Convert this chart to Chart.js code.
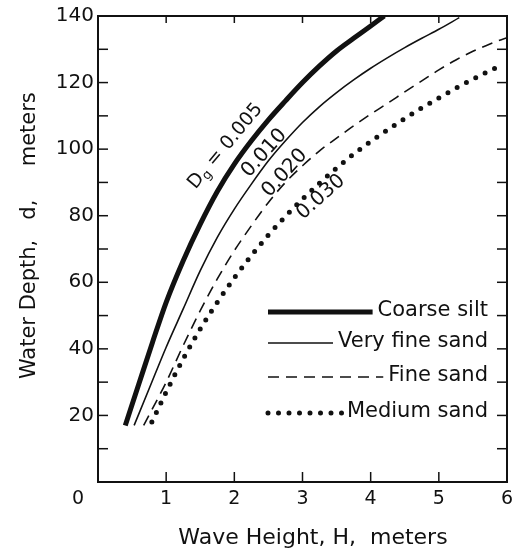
<!DOCTYPE html>
<html><head><meta charset="utf-8">
<script src="https://cdn.jsdelivr.net/npm/chart.js@4.4.1/dist/chart.umd.min.js"></script>
<style>html,body{margin:0;padding:0;background:#fff}canvas{display:block}</style>
</head><body>
<canvas id="c" width="513" height="554"></canvas>
<script>
// ---- data ----
const seriesNames = ['Coarse silt', 'Very fine sand', 'Fine sand', 'Medium sand'];
const grainSizes = ['0.005', '0.010', '0.020', '0.030'];
const coarseSiltH = [0.40, 0.60, 0.80, 1.00, 1.25, 1.50, 1.75, 2.00, 2.25, 2.50, 2.75, 3.00, 3.25, 3.50, 3.75, 4.00, 4.20];
const coarseSiltD = [17, 29.5, 42, 54, 66.5, 77.5, 87.3, 95.5, 102.5, 108.8, 114.5, 120, 125, 129.5, 133.3, 137, 140];
const veryFineSandH = [0.53, 0.75, 1.00, 1.25, 1.50, 1.75, 2.00, 2.25, 2.50, 2.75, 3.00, 3.25, 3.50, 3.75, 4.00, 4.25, 4.50, 4.75, 5.00, 5.30];
const veryFineSandD = [17, 28, 40.5, 52, 63.5, 73.5, 82, 89.5, 96.5, 102.5, 108, 112.8, 117, 120.8, 124.3, 127.5, 130.5, 133.3, 136, 139.5];
const fineSandH = [0.67, 1.00, 1.25, 1.50, 1.75, 2.00, 2.25, 2.50, 2.75, 3.00, 3.25, 3.50, 3.75, 4.00, 4.25, 4.50, 4.75, 5.00, 5.25, 5.50, 5.75, 6.00];
const fineSandD = [17, 30, 41, 51.5, 61, 69.5, 77, 84, 90, 95, 99.5, 103.3, 107, 110.5, 113.8, 117.2, 120.5, 123.8, 126.8, 129.4, 131.6, 133.5];
const mediumSandH = [0.79, 1.00, 1.25, 1.50, 1.75, 2.00, 2.25, 2.50, 2.75, 3.00, 3.25, 3.50, 3.75, 4.00, 4.25, 4.50, 4.75, 5.00, 5.25, 5.50, 5.75, 5.95];
const mediumSandD = [18, 27, 37, 46, 54, 61.3, 68, 74.2, 79.8, 85, 89.8, 94.3, 98.5, 102.3, 105.8, 109.2, 112.4, 115.4, 118.3, 121, 123.6, 125.5];
const xTickLabels = ['0', '1', '2', '3', '4', '5', '6'];
const yTickLabels = ['20', '40', '60', '80', '100', '120', '140'];
const xTitle = 'Wave Height, H,  meters';
const yTitle = 'Water Depth,   d,     meters';

// ---- styling ----
const ink = '#111';
const FONT = '"DejaVu Sans", "Liberation Sans", sans-serif';
const seriesH = [coarseSiltH, veryFineSandH, fineSandH, mediumSandH];
const seriesD = [coarseSiltD, veryFineSandD, fineSandD, mediumSandD];
const lineStyles = [
  { borderWidth: 5, borderDash: [], borderCapStyle: 'butt' },
  { borderWidth: 1.6, borderDash: [], borderCapStyle: 'butt' },
  { borderWidth: 1.6, borderDash: [11, 7], borderCapStyle: 'butt' },
  { borderWidth: 5, borderDash: [0, 10.5], borderCapStyle: 'round' }
];
// label placement (data coordinates) and rotation
const labelPlacement = [
  { h: 1.87, d: 100.9, angle: -50 },
  { h: 2.44, d: 98.8, angle: -48 },
  { h: 2.74, d: 92.8, angle: -48 },
  { h: 3.27, d: 85.6, angle: -41.5 }
];
const legendRowsY = [311, 342, 376, 412];

const datasets = seriesNames.map((name, i) => Object.assign({
  label: name,
  data: seriesH[i].map((h, j) => ({ x: h, y: seriesD[i][j] })),
  borderColor: ink,
  backgroundColor: ink,
  pointRadius: 0,
  fill: false,
  cubicInterpolationMode: 'monotone'
}, lineStyles[i]));

function seg(ctx, x1, y1, x2, y2) { ctx.beginPath(); ctx.moveTo(x1, y1); ctx.lineTo(x2, y2); ctx.stroke(); }

const decor = {
  id: 'decor',
  afterDraw(chart) {
    const { ctx, chartArea: a, scales: { x, y } } = chart;
    ctx.save();
    ctx.strokeStyle = ink; ctx.fillStyle = ink;
    // frame
    ctx.lineWidth = 2;
    ctx.strokeRect(a.left, a.top, a.right - a.left, a.bottom - a.top);
    // inward ticks
    ctx.lineWidth = 1.5;
    for (let v = 10; v < 140; v += 10) {
      const py = y.getPixelForValue(v);
      seg(ctx, a.left, py, a.left + 10, py);
      seg(ctx, a.right, py, a.right - 10, py);
    }
    for (let v = 1; v < 6; v++) {
      const px = x.getPixelForValue(v);
      seg(ctx, px, a.bottom, px, a.bottom - 10);
      seg(ctx, px, a.top, px, a.top + 7);
    }
    // origin label
    ctx.font = '19px ' + FONT;
    ctx.textAlign = 'center'; ctx.textBaseline = 'middle';
    ctx.fillText(xTickLabels[0], x.getPixelForValue(0) - 20, a.bottom + 17);

    // legend
    ctx.font = '21px ' + FONT;
    ctx.textAlign = 'right';
    const textRight = 488, lineLeft = 268;
    chart.data.datasets.forEach((ds, i) => {
      const ry = legendRowsY[i];
      ctx.fillText(ds.label, textRight, ry);
      const w = ctx.measureText(ds.label).width;
      ctx.save();
      ctx.lineWidth = ds.borderWidth;
      ctx.setLineDash(ds.borderDash);
      ctx.lineCap = ds.borderCapStyle;
      seg(ctx, lineLeft, ry + 1, textRight - w - 5, ry + 1);
      ctx.restore();
    });

    // curve labels
    labelPlacement.forEach((p, i) => {
      const px = x.getPixelForValue(p.h), py = y.getPixelForValue(p.d);
      ctx.save();
      ctx.translate(px, py);
      ctx.rotate(p.angle * Math.PI / 180);
      ctx.textBaseline = 'middle';
      if (i === 0) {
        const big = '19px ' + FONT, small = '13px ' + FONT;
        ctx.font = big; const wD = ctx.measureText('D').width;
        const rest = ' = ' + grainSizes[0];
        const wR = ctx.measureText(rest).width;
        ctx.font = small; const wg = ctx.measureText('g').width;
        let sx = -(wD + wg + wR) / 2;
        ctx.textAlign = 'left';
        ctx.font = big; ctx.fillText('D', sx, 0); sx += wD;
        ctx.font = small; ctx.fillText('g', sx, 5); sx += wg;
        ctx.font = big; ctx.fillText(rest, sx, 0);
      } else {
        ctx.font = '20px ' + FONT;
        ctx.textAlign = 'center';
        ctx.fillText(grainSizes[i], 0, 0);
      }
      ctx.restore();
    });
    ctx.restore();
  }
};

new Chart(document.getElementById('c'), {
  type: 'line',
  data: { datasets },
  options: {
    responsive: false,
    animation: false,
    layout: { padding: { top: 16, right: 0, left: 0, bottom: 0 } },
    plugins: { legend: { display: false }, tooltip: { enabled: false } },
    scales: {
      x: {
        type: 'linear', min: 0, max: 6,
        grid: { display: false, drawTicks: false },
        border: { display: false },
        ticks: {
          stepSize: 1, color: ink, padding: 6,
          font: { family: FONT, size: 19 },
          callback: (v) => (v === 0 ? '' : xTickLabels[v])
        },
        title: { display: true, text: '   ' + xTitle, color: ink, font: { family: FONT, size: 22 }, padding: { top: 0, bottom: 3 } },
        afterFit: (s) => { s.height = 72; s.paddingRight = 6; s.paddingLeft = 0; }
      },
      y: {
        type: 'linear', min: 0, max: 140,
        grid: { display: false, drawTicks: false },
        border: { display: false },
        ticks: {
          stepSize: 20, color: ink, padding: 4,
          font: { family: FONT, size: 20 },
          callback: (v) => (v === 0 ? '' : yTickLabels[v / 20 - 1])
        },
        title: { display: true, text: '    ' + yTitle, color: ink, font: { family: FONT, size: 21 }, padding: { top: 17, bottom: 0 } },
        afterFit: (s) => { s.width = 98; }
      }
    }
  },
  plugins: [decor]
});
</script>
</body></html>
